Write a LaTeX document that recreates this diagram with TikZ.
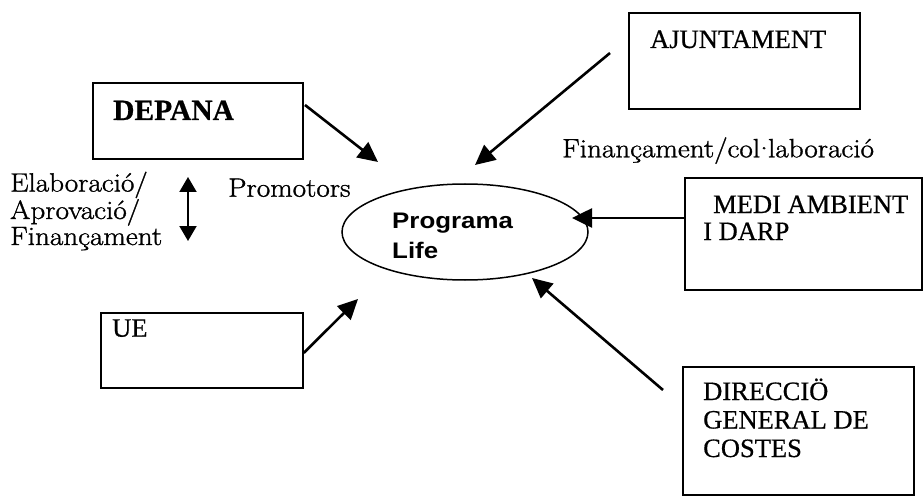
\documentclass[tikz,border=0pt]{standalone}
\usepackage{fontspec}
\newfontfamily\boxfont[FakeBold=0.6]{Liberation Serif}
\newfontfamily\progfont[FakeStretch=1.15]{Liberation Sans}
\newfontfamily\lblfont[FakeStretch=1.1,FakeBold=1.2]{Latin Modern Roman}
\usetikzlibrary{arrows.meta,shapes.geometric}
\begin{document}
\begin{tikzpicture}[x=1pt,y=-1pt,
  box/.style={draw,line width=1.8pt,anchor=north west,inner sep=0pt},
  boxtext/.style={anchor=base west,inner sep=0pt,align=left,font=\boxfont\fontsize{26.5}{28.5}\selectfont},
  lbl/.style={anchor=base west,inner sep=0pt,align=left,font=\lblfont\fontsize{26.5}{26}\selectfont},
  flow/.style={line width=2.6pt,-{Triangle[length=20pt,width=19pt]}},
  twoway/.style={line width=2pt,{Triangle[length=15pt,width=17pt]}-{Triangle[length=15pt,width=17pt]}}
]
\useasboundingbox (0,0) rectangle (923,497);

% boxes
\node[box,minimum width=210pt,minimum height=76pt] (dep) at (92,82) {};
\node[box,minimum width=231pt,minimum height=96pt] (aju) at (628,12) {};
\node[box,minimum width=237pt,minimum height=112pt] (medi) at (684,177) {};
\node[box,minimum width=202pt,minimum height=75pt] (ue) at (100,312) {};
\node[box,minimum width=231pt,minimum height=128pt] (dir) at (682,366) {};

% box texts (anchor = baseline of the last line)
\node[boxtext,font=\boxfont\bfseries\fontsize{29.5}{30}\selectfont] (deptxt) at (113,120) {DEPANA};
\node[boxtext] (ajutxt) at (650,48) {AJUNTAMENT};
\node[boxtext,font=\boxfont\fontsize{26.5}{27}\selectfont] (meditxt) at (703,240) {\hspace*{10pt}MEDI AMBIENT\\I DARP};
\node[boxtext] (uetxt) at (112,336.7) {UE};
\node[boxtext] (dirtxt) at (703,457) {DIRECCIÖ\\GENERAL DE\\COSTES};

% ellipse
\node[draw,ellipse,line width=1.5pt,minimum width=246pt,minimum height=96pt,inner sep=0pt] (prog) at (465,232) {};
\node[anchor=base west,inner sep=0pt,align=left,font=\progfont\bfseries\fontsize{22.5}{29}\selectfont] (progtxt) at (392,258) {Programa\\Life};

% labels
\node[lbl] (elab) at (10,245) {Elaboració/\\Aprovació/\\Finançament};
\node[lbl] (prom) at (228,196.7) {Promotors};
\node[lbl] (fin) at (562,157.3) {Finançament/col\kern-6.5pt·\kern-6.5pt laboració};

% connector end points
\coordinate (depS) at (305,105);
\coordinate (depT) at (378,162);
\coordinate (ajuS) at (610,53);
\coordinate (ajuT) at (475,165);
\coordinate (mediT) at (572,218);
\coordinate (dirS) at (663,390);
\coordinate (dirT) at (532,278);
\coordinate (ueT) at (358,299);
\coordinate (dblA) at (188,177);
\coordinate (dblB) at (188,241);

\draw[flow] (depS) -- (depT);
\draw[flow] (ajuS) -- (ajuT);
\draw[flow] (medi.west |- mediT) -- (mediT);
\draw[flow] (dirS) -- (dirT);
\draw[flow] ([yshift=-2.5pt]ue.east) -- (ueT);
\draw[twoway] (dblA) -- (dblB);
\end{tikzpicture}
\end{document}
